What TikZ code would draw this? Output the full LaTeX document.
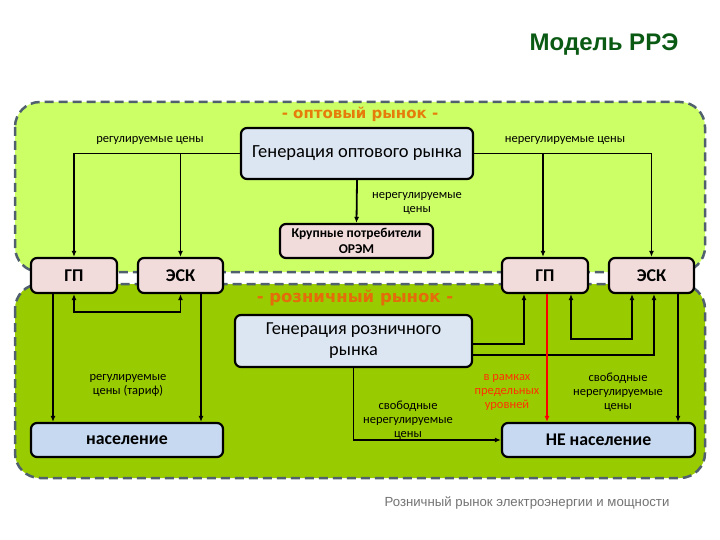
\documentclass[tikz,border=0pt]{standalone}
\usepackage{fontspec}
\setmainfont{Carlito}
\newfontfamily\arialf{Liberation Sans}
\newfontfamily\verdf{DejaVu Sans}
\usetikzlibrary{arrows.meta,calc}
\definecolor{wgreen}{RGB}{204,255,102}
\definecolor{rgreen}{RGB}{153,204,0}
\definecolor{dashc}{RGB}{80,96,110}
\definecolor{pinkbox}{RGB}{242,220,219}
\definecolor{bluebox}{RGB}{220,230,242}
\definecolor{bluebox2}{RGB}{198,217,241}
\definecolor{orangec}{RGB}{230,125,10}
\definecolor{orangec2}{RGB}{228,108,10}
\definecolor{redlab}{RGB}{255,50,0}
\definecolor{titlec}{RGB}{10,90,20}
\begin{document}
\begin{tikzpicture}[x=1pt,y=-1pt,
  region/.style={draw=dashc,line width=2.5pt,dash pattern=on 9pt off 5pt,rounded corners=25pt},
  box/.style={draw=black,line width=2.2pt,rounded corners=6pt,align=center,inner sep=2pt},
  conn/.style={line width=1.8pt,-{Latex[length=6pt,width=5pt]}},
  bconn/.style={line width=1.8pt,{Latex[length=6pt,width=5pt]}-{Latex[length=6pt,width=5pt]}},
  lab/.style={font=\fontsize{12.5}{14}\selectfont,align=center,inner sep=0pt},
  reglab/.style={font=\verdf\bfseries\fontsize{15}{17}\selectfont,inner sep=0pt}]
\useasboundingbox (0,0) rectangle (720,540);
\fill[white] (0,0) rectangle (720,540);
% regions
\draw[region,fill=wgreen] (15,102) rectangle (705,272);
\draw[region,fill=rgreen] (15,284) rectangle (705,478);
% title
\node[font=\arialf\bfseries\fontsize{24}{28}\selectfont,text=titlec] (title) at (604,45) {Модель РРЭ};
\node[reglab,text=orangec] (wlab) at (360,114) {- оптовый рынок -};
\node[reglab,text=orangec2,font=\verdf\bfseries\fontsize{16.5}{18}\selectfont] (rlab) at (355,298) {- розничный рынок -};
% boxes
\node[box,fill=bluebox,minimum width=232pt,minimum height=51pt,font=\fontsize{18.5}{22}\selectfont] (genW) at (357,153.5) {Генерация оптового рынка};
\node[box,fill=pinkbox,minimum width=153pt,minimum height=34pt,inner sep=0pt,font=\bfseries\fontsize{13.5}{16}\selectfont] (big) at (356.5,241) {Крупные потребители\\ОРЭМ};
\node[box,fill=pinkbox,minimum width=86pt,minimum height=35pt,font=\bfseries\fontsize{18}{20}\selectfont] (gpL) at (74,275.5) {ГП};
\node[box,fill=pinkbox,minimum width=85pt,minimum height=35pt,font=\bfseries\fontsize{18}{20}\selectfont] (eskL) at (180.5,275.5) {ЭСК};
\node[box,fill=pinkbox,minimum width=86pt,minimum height=35pt,font=\bfseries\fontsize{18}{20}\selectfont] (gpR) at (545,275.5) {ГП};
\node[box,fill=pinkbox,minimum width=85pt,minimum height=35pt,font=\bfseries\fontsize{18}{20}\selectfont] (eskR) at (651.5,275.5) {ЭСК};
\node[box,fill=bluebox,minimum width=237pt,minimum height=52pt,font=\fontsize{18.3}{21}\selectfont] (genR) at (353.5,341) {Генерация розничного\\рынка};
\node[box,fill=bluebox2,minimum width=192pt,minimum height=34pt,font=\bfseries\fontsize{17.8}{20}\selectfont] (nas) at (127,440) {население};
\node[box,fill=bluebox2,minimum width=193pt,minimum height=34pt,font=\bfseries\fontsize{17.8}{20}\selectfont] (nenas) at (598.5,440) {НЕ население};
% wholesale connectors
\draw[conn] (genW.west) -| (gpL.north);
\draw[conn] (genW.west -| eskL.north) -- (eskL.north);
\draw[conn] (genW.east) -| (eskR.north);
\draw[conn] ([xshift=-2pt]genW.east -| gpR.north) -- ([xshift=-2pt]gpR.north);
\draw[conn] (genW.south) -- (big.north);
% retail connectors
\draw[bconn] (gpL.south) -- ++(0,18) -| (eskL.south);
\draw[conn] ([xshift=-21pt]gpL.south) -- ([xshift=-21pt]gpL.south |- nas.north);
\draw[conn] ([xshift=20.5pt]eskL.south) -- ([xshift=20.5pt]eskL.south |- nas.north);
\draw[conn] ([yshift=-3pt]genR.east) -| ([xshift=-21pt]gpR.south);
\draw[conn] ([yshift=-14pt]genR.east) -| ([xshift=2.5pt]eskR.south);
\draw[bconn] ([xshift=26pt]gpR.south) -- ++(0,45) -| ([xshift=-19.5pt]eskR.south);
\draw[conn,red] ([xshift=2pt]gpR.south) -- ([xshift=2pt]gpR.south |- nenas.north);
\draw[conn] ([xshift=26.5pt]eskR.south) -- ([xshift=26.5pt]eskR.south |- nenas.north);
\draw[conn] (genR.south) |- (nenas.west);
% labels
\node[lab] (l1) at (150,140) {регулируемые цены};
\node[lab] (l2) at (565,140) {нерегулируемые цены};
\node[lab] (l3) at (417,203) {нерегулируемые\\цены};
\node[lab] (l4) at (128,385) {регулируемые\\цены (тариф)};
\node[lab] (l5) at (408,420) {свободные\\нерегулируемые\\цены};
\node[lab,text=redlab] (l6) at (507,392) {в рамках\\предельных\\уровней};
\node[lab] (l7) at (618,392) {свободные\\нерегулируемые\\цены};
\node[font=\arialf\fontsize{13.2}{15}\selectfont,text=black!55] (cap) at (527,503) {Розничный рынок электроэнергии и мощности};
\end{tikzpicture}
\end{document}
